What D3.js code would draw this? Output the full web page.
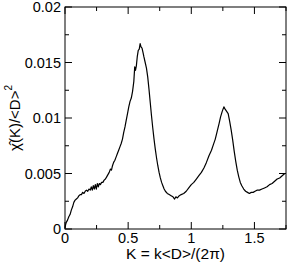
<!DOCTYPE html>
<html><head><meta charset="utf-8">
<script src="https://cdn.jsdelivr.net/npm/d3@7"></script>
<style>html,body{margin:0;padding:0;background:#fff;}</style>
</head><body>
<svg id="c" width="291" height="265"></svg>
<script>
const kValues = [0.000,0.005,0.010,0.020,0.030,0.040,0.050,0.060,0.070,0.080,0.090,0.100,0.110,0.120,0.130,0.140,0.150,0.160,0.170,0.180,0.190,0.200,0.208,0.216,0.224,0.232,0.240,0.248,0.256,0.264,0.272,0.280,0.290,0.300,0.310,0.320,0.330,0.340,0.350,0.360,0.368,0.376,0.385,0.395,0.405,0.415,0.425,0.435,0.445,0.455,0.465,0.475,0.485,0.495,0.505,0.515,0.525,0.535,0.545,0.552,0.558,0.565,0.572,0.580,0.588,0.595,0.602,0.610,0.618,0.625,0.635,0.645,0.655,0.665,0.675,0.685,0.695,0.705,0.715,0.725,0.735,0.745,0.755,0.765,0.775,0.785,0.795,0.810,0.825,0.840,0.855,0.868,0.878,0.890,0.905,0.920,0.940,0.960,0.980,1.000,1.020,1.040,1.060,1.080,1.100,1.120,1.140,1.160,1.175,1.190,1.205,1.220,1.232,1.245,1.258,1.268,1.280,1.292,1.304,1.316,1.328,1.340,1.352,1.364,1.376,1.388,1.400,1.415,1.430,1.445,1.460,1.475,1.490,1.505,1.520,1.540,1.560,1.580,1.600,1.620,1.640,1.660,1.680,1.700,1.720,1.740,1.750];
const chiValues = [0.0001,0.0004,0.0006,0.0008,0.0011,0.0013,0.0017,0.0020,0.0024,0.0026,0.0027,0.0028,0.0030,0.0031,0.0031,0.0033,0.0032,0.0034,0.0035,0.0034,0.0036,0.0035,0.0038,0.0035,0.0039,0.0036,0.0040,0.0036,0.0041,0.0038,0.0041,0.0040,0.0042,0.0042,0.0044,0.0045,0.0047,0.0049,0.0051,0.0054,0.0053,0.0057,0.0060,0.0062,0.0065,0.0068,0.0071,0.0074,0.0077,0.0081,0.0087,0.0092,0.0098,0.0104,0.0110,0.0115,0.0118,0.0124,0.0133,0.0146,0.0143,0.0147,0.0155,0.0161,0.0162,0.0167,0.0164,0.0163,0.0159,0.0155,0.0150,0.0145,0.0137,0.0126,0.0114,0.0102,0.0091,0.0081,0.0072,0.0064,0.0057,0.0051,0.0046,0.0042,0.0039,0.0036,0.0034,0.0032,0.0031,0.0030,0.0029,0.0027,0.0029,0.0028,0.0030,0.0031,0.0032,0.0034,0.0037,0.0040,0.0042,0.0045,0.0048,0.0051,0.0055,0.0060,0.0066,0.0071,0.0076,0.0081,0.0088,0.0095,0.0101,0.0106,0.0110,0.0108,0.0106,0.0104,0.0097,0.0089,0.0080,0.0070,0.0061,0.0053,0.0047,0.0042,0.0039,0.0036,0.0034,0.0033,0.0032,0.0033,0.0033,0.0034,0.0035,0.0035,0.0036,0.0037,0.0038,0.0040,0.0041,0.0043,0.0045,0.0046,0.0048,0.0050,0.0050];
const xMajorTicks = [0, 0.5, 1, 1.5];
const xTickLabels = ["0", "0.5", "1", "1.5"];
const xMinorTicks = [0.25, 0.75, 1.25, 1.75];
const yMajorTicks = [0, 0.005, 0.01, 0.015, 0.02];
const yTickLabels = ["0", "0.005", "0.01", "0.015", "0.02"];
const yMinorTicks = [0.0025, 0.0075, 0.0125, 0.0175];

const L = 65, R = 286, T = 7, B = 229;
const x = d3.scaleLinear().domain([0, 1.75]).range([L, R]);
const y = d3.scaleLinear().domain([0, 0.02]).range([B, T]);
const svg = d3.select("#c");
const font = "Liberation Sans, Arial, Helvetica, sans-serif";

const data = kValues.map((k, i) => [k, chiValues[i]]);
svg.append("path").datum(data)
  .attr("fill", "none").attr("stroke", "#000").attr("stroke-width", 1.2)
  .attr("stroke-linejoin", "round")
  .attr("d", d3.line().x(d => x(d[0])).y(d => y(d[1])));

// frame
svg.append("rect").attr("x", L).attr("y", T).attr("width", R - L).attr("height", B - T)
  .attr("fill", "none").attr("stroke", "#000").attr("stroke-width", 1);

const maj = 7, mnr = 4;
function ticks(g, scale, vals, len, orient) {
  vals.forEach(v => {
    const p = scale(v);
    if (orient === "x") {
      g.append("line").attr("x1", p).attr("x2", p).attr("y1", B).attr("y2", B - len);
      g.append("line").attr("x1", p).attr("x2", p).attr("y1", T).attr("y2", T + len);
    } else {
      g.append("line").attr("y1", p).attr("y2", p).attr("x1", L).attr("x2", L + len);
      g.append("line").attr("y1", p).attr("y2", p).attr("x1", R).attr("x2", R - len);
    }
  });
}
const tg = svg.append("g").attr("stroke", "#000").attr("stroke-width", 1);
ticks(tg, x, xMajorTicks, maj, "x");
ticks(tg, x, xMinorTicks, mnr, "x");
ticks(tg, y, yMajorTicks, maj, "y");
ticks(tg, y, yMinorTicks, mnr, "y");

// x tick labels
svg.append("g").selectAll("text").data(xMajorTicks).join("text")
  .attr("x", d => x(d)).attr("y", 242.5)
  .attr("text-anchor", "middle").attr("font-family", font).attr("font-size", 14.5)
  .text((d, i) => xTickLabels[i]);
// y tick labels
svg.append("g").selectAll("text").data(yMajorTicks).join("text")
  .attr("x", 61).attr("y", d => y(d) + 5)
  .attr("text-anchor", "end").attr("font-family", font).attr("font-size", 14.5)
  .text((d, i) => yTickLabels[i]);

// x title
svg.append("text").attr("x", (L + R) / 2).attr("y", 259)
  .attr("text-anchor", "middle").attr("font-family", font).attr("font-size", 15.5)
  .text("K = k<D>/(2π)");

// y title
const yt = svg.append("text")
  .attr("transform", `translate(20,${(T + B) / 2}) rotate(-90)`)
  .attr("text-anchor", "middle").attr("font-family", font).attr("font-size", 15);
yt.append("tspan").text("χ̂(K)/<D>");
yt.append("tspan").attr("font-size", 10).attr("dy", -8).text("2");
</script>
</body></html>
